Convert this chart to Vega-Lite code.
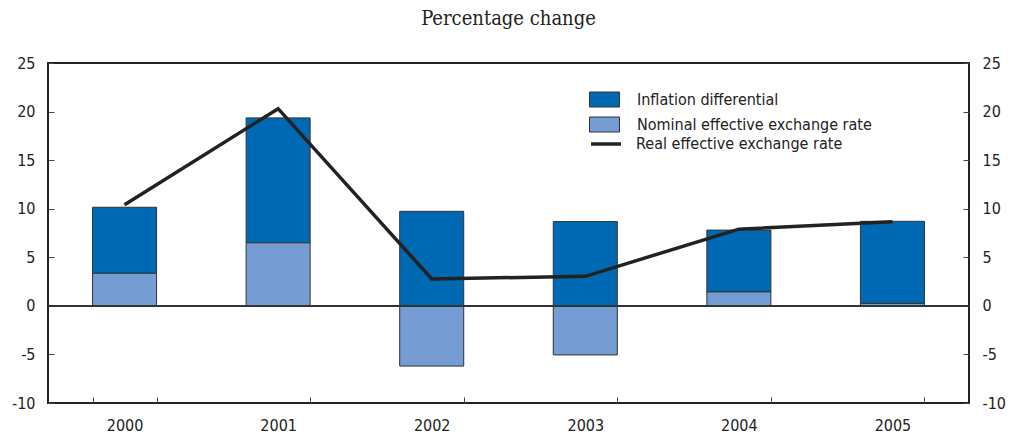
{
  "$schema": "https://vega.github.io/schema/vega-lite/v6.json",
  "width": 921,
  "height": 340,
  "autosize": {"type": "none"},
  "padding": {"left": 48, "top": 63, "right": 44, "bottom": 31},
  "background": "white",
  "title": {
    "text": "Percentage change",
    "font": "DejaVu Serif Condensed",
    "fontSize": 20,
    "fontWeight": "normal",
    "color": "#222",
    "anchor": "middle",
    "offset": 26
  },
  "config": {
    "view": {"stroke": "#222", "strokeWidth": 2},
    "axis": {
      "domain": false,
      "grid": false,
      "labelFont": "Liberation Sans Narrow, DejaVu Sans Condensed, sans-serif",
      "labelFontSize": 16,
      "labelColor": "#222",
      "tickColor": "#444",
      "tickWidth": 1,
      "title": null
    },
    "legend": {
      "labelFont": "Liberation Sans Narrow, DejaVu Sans Condensed, sans-serif",
      "labelFontSize": 16,
      "labelColor": "#222",
      "labelLimit": 400
    }
  },
  "data": {
    "values": [
      {"year": "2000", "series": "Inflation differential", "value": 6.8},
      {"year": "2000", "series": "Nominal effective exchange rate", "value": 3.35},
      {"year": "2001", "series": "Inflation differential", "value": 12.86},
      {"year": "2001", "series": "Nominal effective exchange rate", "value": 6.49},
      {"year": "2002", "series": "Inflation differential", "value": 9.73},
      {"year": "2002", "series": "Nominal effective exchange rate", "value": -6.2},
      {"year": "2003", "series": "Inflation differential", "value": 8.68},
      {"year": "2003", "series": "Nominal effective exchange rate", "value": -5.05},
      {"year": "2004", "series": "Inflation differential", "value": 6.37},
      {"year": "2004", "series": "Nominal effective exchange rate", "value": 1.43},
      {"year": "2005", "series": "Inflation differential", "value": 8.45},
      {"year": "2005", "series": "Nominal effective exchange rate", "value": 0.25},
      {"year": "2000", "series": "Real effective exchange rate", "value": 10.4},
      {"year": "2001", "series": "Real effective exchange rate", "value": 20.3},
      {"year": "2002", "series": "Real effective exchange rate", "value": 2.77},
      {"year": "2003", "series": "Real effective exchange rate", "value": 3.04},
      {"year": "2004", "series": "Real effective exchange rate", "value": 7.9},
      {"year": "2005", "series": "Real effective exchange rate", "value": 8.65}
    ]
  },
  "resolve": {"axis": {"y": "independent"}},
  "layer": [
    {
      "transform": [{"filter": "datum.series !== 'Real effective exchange rate'"}],
      "mark": {"type": "bar", "stroke": "#333", "strokeWidth": 1},
      "encoding": {
        "x": {
          "field": "year",
          "type": "ordinal",
          "scale": {"paddingInner": 0.583, "paddingOuter": 0.29},
          "axis": {"labelAngle": 0, "tickBand": "extent", "tickSize": -6, "labelPadding": 20}
        },
        "y": {
          "field": "value",
          "type": "quantitative",
          "stack": "zero",
          "scale": {"domain": [-10, 25], "nice": false},
          "axis": {"orient": "left", "values": [-10, -5, 0, 5, 10, 15, 20, 25], "tickSize": -6, "labelPadding": 19, "labelExpr": "replace(datum.label, '\u2212', '-')"}
        },
        "color": {
          "field": "series",
          "type": "nominal",
          "scale": {
            "domain": ["Inflation differential", "Nominal effective exchange rate"],
            "range": ["#0069B4", "#759CD3"]
          },
          "legend": {
            "orient": "none",
            "legendX": 541,
            "legendY": 21,
            "title": null,
            "symbolType": "M-1,-0.5H1V0.5H-1Z",
            "symbolSize": 900,
            "symbolStrokeColor": "#333",
            "symbolStrokeWidth": 1,
            "symbolOpacity": 1,
            "labelOffset": 17,
            "rowPadding": -8
          }
        },
        "order": {"field": "series", "sort": "descending"}
      }
    },
    {
      "mark": {"type": "rule", "color": "#333", "strokeWidth": 1.5},
      "encoding": {"y": {"datum": 0, "axis": null}}
    },
    {
      "transform": [{"filter": "datum.series === 'Real effective exchange rate'"}],
      "mark": {"type": "line", "strokeWidth": 3.5},
      "encoding": {
        "x": {"field": "year", "type": "ordinal"},
        "y": {
          "field": "value",
          "type": "quantitative",
          "axis": {"orient": "right", "values": [-10, -5, 0, 5, 10, 15, 20, 25], "tickSize": -6, "labelPadding": 19, "labelExpr": "replace(datum.label, '\u2212', '-')"}
        },
        "stroke": {
          "field": "series",
          "type": "nominal",
          "scale": {"domain": ["Real effective exchange rate"], "range": ["#222"]},
          "legend": {
            "orient": "none",
            "legendX": 541,
            "legendY": 64,
            "title": null,
            "symbolType": "stroke",
            "symbolSize": 900,
            "symbolStrokeWidth": 3.5,
            "labelOffset": 13
          }
        }
      }
    }
  ]
}
